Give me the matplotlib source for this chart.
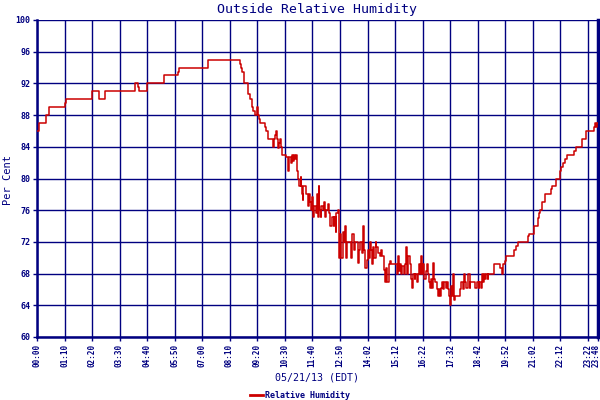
import numpy as np
import matplotlib.pyplot as plt
import matplotlib.transforms as mtransforms

# minutes after midnight / relative humidity (%)
t_am = [0, 6, 22, 31, 71, 74, 139, 141, 159, 173, 250, 257, 260, 279, 324, 359, 362, 436]
rh_am = [86, 87, 88, 89, 89.5, 90, 90.5, 91, 90, 91, 92, 91.5, 91, 92, 93, 93.5, 94, 95]

t_drop = [516, 519, 522, 526, 528, 536, 538, 541, 548, 551,
          554, 559, 563, 565, 568, 580, 583, 588, 601, 604,
          606, 608, 610, 613, 616, 618, 620, 623, 635, 638,
          640, 642, 646, 649, 652, 655, 657, 659, 662, 664,
          668, 671, 673, 675, 676, 678, 685, 689, 692, 695,
          698, 700, 703, 706, 709, 712, 714, 717, 719, 722,
          724, 727, 730, 733, 736, 740, 743, 746, 751, 755,
          757, 760, 762, 766, 768, 770, 773, 775, 778, 781,
          784, 787, 790, 800, 802, 806, 809, 816, 819, 823,
          826, 830, 833, 836, 839, 843]
rh_drop = [94.5, 94, 93.5, 93, 92, 91.6, 90.6, 90, 89, 88.5,
           88, 89, 88, 87.5, 87, 86.5, 86, 85, 84, 85,
           85.5, 86, 85, 83.8, 84.5, 85, 84, 83, 82.7, 81.7,
           81, 82.7, 82, 83, 82.2, 83, 82.5, 83, 81, 80,
           79, 80.2, 79, 78, 77.3, 79, 78, 76.5, 78, 77,
           76, 77.7, 75.2, 76.5, 75.6, 78, 75.2, 79, 76, 75.2,
           76.5, 76, 77, 75.2, 76, 76.8, 75.6, 74, 75.2, 74,
           75.2, 73.2, 75.6, 76, 70, 73, 71.8, 70, 73.3, 72,
           74, 70, 72, 70, 73, 71, 72, 69.3, 71, 72,
           70.6, 74, 71, 68.7, 69.7, 71]

t_low = [845, 848, 851, 853, 855, 858, 862, 863, 868, 872,
         876, 879, 883, 886, 889, 892, 895, 898, 902, 916,
         919, 921, 925, 927, 930, 933, 936, 939, 942, 945,
         949, 951, 954, 957, 961, 963, 966, 969, 973, 974,
         978, 980, 983, 986, 990, 992, 994, 997, 1000, 1003,
         1005, 1008, 1011, 1014, 1017, 1020, 1022, 1025, 1028, 1031,
         1034, 1037, 1040, 1043, 1046, 1049, 1051, 1054, 1056, 1059,
         1062, 1064, 1077, 1080, 1084, 1087, 1090, 1092, 1096, 1098,
         1101, 1103, 1115, 1120, 1124, 1126, 1130, 1133, 1135, 1138,
         1141, 1143, 1147, 1149, 1162, 1179, 1184, 1186, 1190, 1194,
         1214, 1218, 1224]
rh_low = [70, 72, 71, 69.2, 71.3, 70, 72, 71.3, 70.6, 70.2,
          71, 70.2, 68.5, 67, 68.7, 67, 69.2, 69.6, 69.2, 68,
          70.2, 68.3, 69.2, 68, 68.9, 68, 69.2, 71.3, 68, 70.2,
          69.2, 67.3, 66.2, 68, 67.3, 68, 67, 68, 69.2, 68,
          70.2, 68, 69.2, 67.3, 68.3, 69.2, 68, 67, 66.2, 67.3,
          66.2, 69.4, 67.3, 67, 66, 65.2, 66, 65.2, 66.2, 67,
          66, 67, 66.2, 67, 66, 65.2, 64, 66.4, 65.2, 68,
          64.7, 65.2, 66, 67, 66, 68, 67, 66.2, 67.3, 68,
          66.2, 67, 66.2, 67, 66.2, 67, 66.2, 68, 67, 68,
          67.3, 68, 67.3, 68, 69.2, 68.7, 68, 69.2, 69.6, 70.2,
          71, 71.5, 72]

t_pm = [1250, 1253, 1265, 1276, 1278, 1281, 1286, 1292, 1308, 1312,
        1322, 1332, 1335, 1339, 1343, 1349, 1368, 1371, 1387, 1398,
        1419, 1421, 1424, 1426, 1428]
rh_pm = [72.7, 73, 74, 75, 75.6, 76, 77, 78, 78.7, 79,
         80, 81, 81.5, 82, 82.5, 83, 83.5, 84, 85, 86,
         86.5, 87, 86.5, 87, 87]

tick_labels = ['00:00', '01:10', '02:20', '03:30', '04:40', '05:50', '07:00',
               '08:10', '09:20', '10:30', '11:40', '12:50', '14:02', '15:12',
               '16:22', '17:32', '18:42', '19:52', '21:02', '22:12', '23:22', '23:48']

t = np.array(t_am + t_drop + t_low + t_pm)
rh = np.array(rh_am + rh_drop + rh_low + rh_pm)

tick_pos = [int(s[:2]) * 60 + int(s[3:]) for s in tick_labels]

navy = '#000080'
red = '#CC0000'
mono = 'DejaVu Sans Mono'

fig = plt.figure(figsize=(6, 4), dpi=100)
ax = fig.add_axes([37 / 600, 1 - 337 / 400, 561 / 600, 317 / 400])

ax.plot(t, rh, drawstyle='steps-post', color=red, lw=1.1, zorder=3,
        label='Relative Humidity')

ax.set_xlim(0, 1428)
ax.set_ylim(60, 100)
ax.set_xticks(tick_pos)
ax.set_xticklabels(tick_labels, rotation=90, fontsize=5.5, fontweight='bold',
                   family=mono, color=navy)
ax.set_yticks(np.arange(60, 101, 4))
ax.set_yticklabels([str(v) for v in range(60, 101, 4)], fontsize=6,
                   fontweight='bold', family=mono, color=navy)
ax.tick_params(axis='both', length=3, width=1.0, color=navy, pad=2)
ax.grid(True, color=navy, lw=1.0)

# nudge the last label in against the right edge, like the original
last = ax.get_xticklabels()[-1]
last.set_transform(last.get_transform() +
                   mtransforms.ScaledTranslation(-1.5 / 100, 0, fig.dpi_scale_trans))

for side in ['left', 'bottom']:
    ax.spines[side].set_color(navy)
    ax.spines[side].set_linewidth(1.8)
ax.spines['right'].set_color(navy)
ax.spines['right'].set_linewidth(2.5)
ax.spines['top'].set_visible(False)

fig.text(317 / 600, 1 - 9 / 400, 'Outside Relative Humidity', ha='center',
         va='center', fontsize=9.5, family=mono, color=navy)
fig.text(8 / 600, 1 - 180 / 400, 'Per Cent', rotation=90, ha='center',
         va='center', fontsize=7.5, family=mono, color=navy)
fig.text(317 / 600, 1 - 378 / 400, '05/21/13 (EDT)', ha='center',
         va='center', fontsize=7.2, family=mono, color=navy)

leg = fig.legend(loc='center', bbox_to_anchor=(300 / 600, 1 - 395 / 400),
                 frameon=False, handlelength=1.5, handletextpad=0.3,
                 prop={'family': mono, 'size': 6, 'weight': 'bold'})
for txt in leg.get_texts():
    txt.set_color(navy)
leg.get_lines()[0].set_linewidth(2)

fig.savefig('out.png', dpi=100)
